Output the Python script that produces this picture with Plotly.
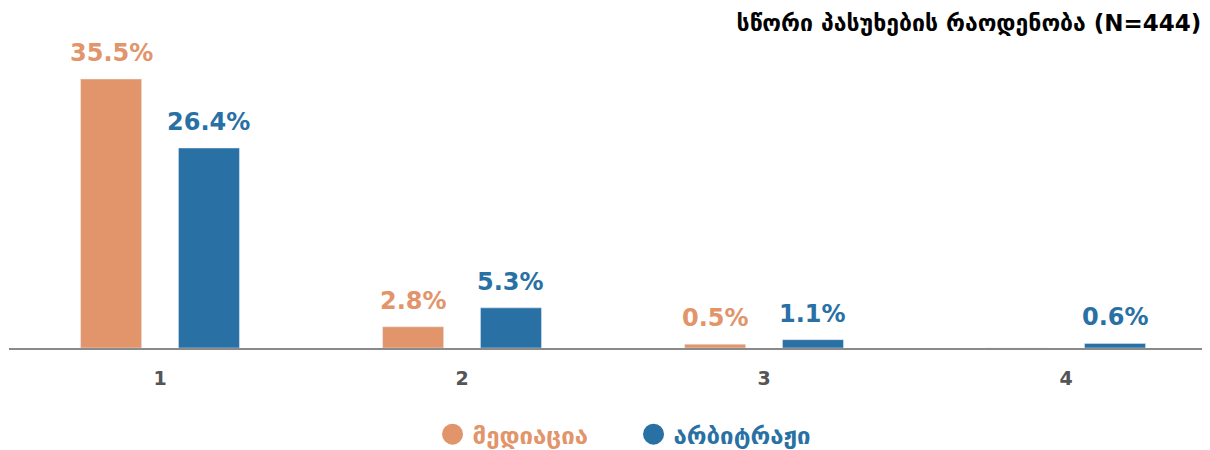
import plotly.graph_objects as go

categories = [1, 2, 3, 4]
tick_labels = ["1", "2", "3", "4"]
mediation = [35.5, 2.8, 0.5, 0]
arbitration = [26.4, 5.3, 1.1, 0.6]
series_names = ["მედიაცია", "არბიტრაჟი"]
title_text = "სწორი პასუხების რაოდენობა (N=444)"

orange = "#E2946A"
blue = "#2970A4"
font_family = "DejaVu Sans"
bar_w = 0.202
half_gap = 0.162

fig = go.Figure()
annotations = []
series = [(mediation, series_names[0], orange, -half_gap),
          (arbitration, series_names[1], blue, half_gap)]
for vals, name, col, centre in series:
    fig.add_trace(go.Bar(
        x=categories, y=vals, name=name, marker_color=col,
        width=bar_w, offset=centre - bar_w / 2,
        showlegend=False, hoverinfo="skip"))
    for c, v in zip(categories, vals):
        if v > 0:
            annotations.append(dict(
                x=c + centre, y=v, xref="x", yref="y", text=f"{v}%",
                showarrow=False, yanchor="bottom", yshift=10,
                font=dict(family=font_family, size=24, color=col, weight="bold")))

# legend entries with round markers (outline thickens the capped legend symbol)
for name, col in [(series_names[0], orange), (series_names[1], blue)]:
    fig.add_trace(go.Scatter(
        x=[None], y=[None], mode="markers", name=f'<span style="color:{col}">{name}</span>',
        marker=dict(symbol="circle", size=16, color=col, line=dict(width=5, color=col))))

fig.update_layout(
    width=1194, height=442,
    margin=dict(l=1, r=0, t=40, b=102, autoexpand=False),
    paper_bgcolor="white", plot_bgcolor="white",
    barmode="overlay",
    font=dict(family=font_family),
    annotations=annotations,
    title=dict(text=title_text, xref="container", x=0.9995, xanchor="right",
               y=0.966, yanchor="middle", pad=dict(r=0),
               font=dict(family=font_family, size=23, color="black", weight="bold")),
    xaxis=dict(range=[0.5, 4.45], tickvals=categories, ticktext=tick_labels,
               showline=True, linecolor="#8a8a8a", linewidth=2, showgrid=False,
               zeroline=False, ticks="outside", ticklen=12, tickcolor="rgba(0,0,0,0)",
               tickfont=dict(family=font_family, size=19, color="#555555", weight="bold")),
    yaxis=dict(range=[0, 39.6], visible=False, showgrid=False, zeroline=False),
    legend=dict(orientation="h", x=0.5235, xanchor="center",
                yref="container", y=0.035, yanchor="middle",
                font=dict(family=font_family, size=24, weight="bold"),
                entrywidth=156, itemsizing="trace"),
)

fig.write_html("out.html")
